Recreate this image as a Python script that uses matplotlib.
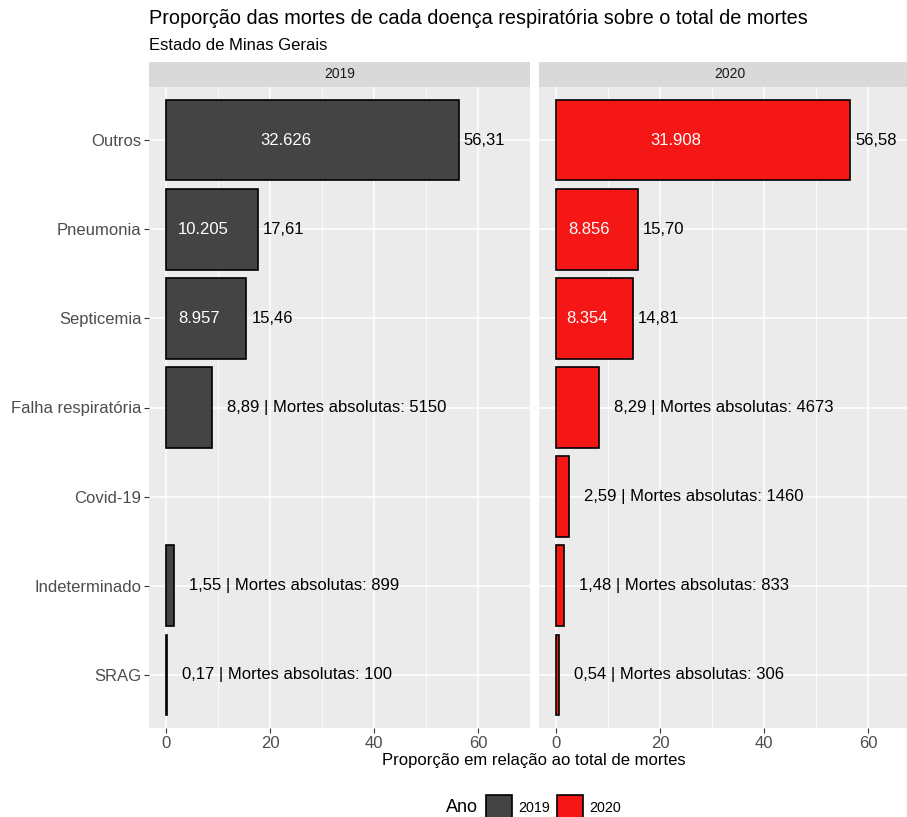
import matplotlib
matplotlib.use("Agg")
import matplotlib.pyplot as plt
from matplotlib.patches import Rectangle

plt.rcParams['font.family'] = ['Liberation Sans', 'DejaVu Sans']

categories = ["Outros", "Pneumonia", "Septicemia", "Falha respiratória",
              "Covid-19", "Indeterminado", "SRAG"]
years = ["2019", "2020"]
prop_2019 = [56.31, 17.61, 15.46, 8.89, None, 1.55, 0.17]
abs_2019 = [32626, 10205, 8957, 5150, None, 899, 100]
prop_2020 = [56.58, 15.70, 14.81, 8.29, 2.59, 1.48, 0.54]
abs_2020 = [31908, 8856, 8354, 4673, 1460, 833, 306]
colors = {"2019": "#444444", "2020": "#F51616"}

W, H = 907, 817
fig = plt.figure(figsize=(W / 100, H / 100), dpi=100)

def fx(px):
    return px / W

def fy(py):
    return 1 - py / H

panel_w = 381
panel_top, panel_bot = 87, 728
strip_top = 62
lefts = [149, 539]
xlim = (-3.27, 70.0)

def fmt_br(v, nd=2):
    return f"{v:.{nd}f}".replace(".", ",")

def fmt_thousands(n):
    return f"{n:,}".replace(",", ".")

data = {"2019": (prop_2019, abs_2019), "2020": (prop_2020, abs_2020)}
n = len(categories)
ypos = list(range(n - 1, -1, -1))

for i, yr in enumerate(years):
    left = lefts[i]
    ax = fig.add_axes([fx(left), fy(panel_bot), panel_w / W, (panel_bot - panel_top) / H])
    ax.set_facecolor("#EBEBEB")
    for s in ax.spines.values():
        s.set_visible(False)
    ax.set_xlim(*xlim)
    ax.set_ylim(-0.6, n - 1 + 0.6)
    ax.set_xticks([0, 20, 40, 60])
    ax.set_xticks([10, 30, 50, 70], minor=True)
    ax.set_yticks(ypos)
    ax.grid(True, which="major", color="white", linewidth=1.1)
    ax.grid(True, which="minor", axis="x", color="white", linewidth=0.55)
    ax.set_axisbelow(True)
    ax.tick_params(axis="both", which="major", length=3.5, width=0.8, color="#333333",
                   labelcolor="#4D4D4D", labelsize=12)
    ax.tick_params(axis="x", which="minor", length=0)
    ax.tick_params(axis="x", pad=2)
    ax.tick_params(axis="y", pad=2)
    if i == 0:
        ax.set_yticklabels(categories)
    else:
        ax.tick_params(axis="y", labelleft=False, length=0)

    props, abss = data[yr]
    for cat_i, (p, a) in enumerate(zip(props, abss)):
        if p is None:
            continue
        y = ypos[cat_i]
        ax.barh(y, p, height=0.9, color=colors[yr], edgecolor="black", linewidth=1.2)
        if a >= 8000:
            ax.text(p / 2.45, y, fmt_thousands(a), color="white", fontsize=12,
                    ha="center", va="center")
            ax.annotate(fmt_br(p), xy=(p, y), xytext=(5, 0), textcoords="offset pixels",
                        ha="left", va="center", fontsize=12, color="black")
        else:
            ax.annotate(f"{fmt_br(p)} | Mortes absolutas: {a}", xy=(p, y), xytext=(15, 0),
                        textcoords="offset pixels", ha="left", va="center",
                        fontsize=12, color="black")

    # strip
    sax = fig.add_axes([fx(left), fy(panel_top), panel_w / W, (panel_top - strip_top) / H])
    sax.set_facecolor("#D9D9D9")
    sax.set_xticks([])
    sax.set_yticks([])
    for s in sax.spines.values():
        s.set_visible(False)
    sax.text(0.5, 0.5, yr, transform=sax.transAxes, ha="center", va="center",
             fontsize=10, color="#1A1A1A")

fig.text(fx(149), fy(19), "Proporção das mortes de cada doença respiratória sobre o total de mortes",
         fontsize=14.3, ha="left", va="center", color="black")
fig.text(fx(149), fy(45), "Estado de Minas Gerais", fontsize=12, ha="left", va="center",
         color="black")
fig.text(fx(534), fy(761), "Proporção em relação ao total de mortes", fontsize=12,
         ha="center", va="center", color="black")

# legend
fig.text(fx(446), fy(808), "Ano", fontsize=13, ha="left", va="center", color="black")
for x0, yr in [(486, "2019"), (557, "2020")]:
    fig.patches.append(Rectangle((fx(x0), fy(822)), 26 / W, 27 / H, transform=fig.transFigure,
                                 facecolor=colors[yr], edgecolor="black", linewidth=1.2))
    fig.text(fx(x0 + 32), fy(808), yr, fontsize=10.3, ha="left", va="center", color="black")

fig.savefig("out.png", dpi=100)
